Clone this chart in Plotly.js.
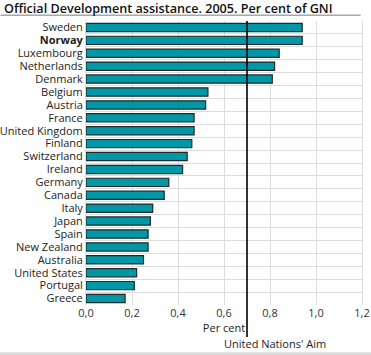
<!DOCTYPE html>
<html><head><meta charset="utf-8">
<script src="https://cdn.plot.ly/plotly-3.0.1.min.js"></script>
<style>html,body{margin:0;padding:0;background:#fff;}#c{width:371px;height:355px;}</style>
</head><body><div id="c"></div>
<script>
const countries = ["Sweden","Norway","Luxembourg","Netherlands","Denmark","Belgium","Austria","France","United Kingdom","Finland","Switzerland","Ireland","Germany","Canada","Italy","Japan","Spain","New Zealand","Australia","United States","Portugal","Greece"];
const values = [0.94,0.94,0.84,0.82,0.81,0.53,0.52,0.47,0.47,0.46,0.44,0.42,0.36,0.34,0.29,0.28,0.27,0.27,0.25,0.22,0.21,0.17];
const highlight = "Norway";
const aim = 0.7;
const xTicks = [0,0.2,0.4,0.6,0.8,1.0,1.2];

const ticktext = countries.map(c => c === highlight ? "<b>" + c + "</b>" : c);
const font = "Open Sans, DejaVu Sans, sans-serif";

const data = [{
  type: "bar", orientation: "h",
  y: countries, x: values,
  marker: {color: "#0097a7", line: {color: "#1e2a2c", width: 1.2}},
  hoverinfo: "x+y"
}];

const layout = {
  width: 371, height: 355,
  margin: {l: 85.5, r: 9.3, t: 21, b: 50},
  paper_bgcolor: "#fff", plot_bgcolor: "#fff",
  separators: ", ",
  showlegend: false,
  bargap: 0.36,
  font: {family: font, size: 11, color: "#222"},
  title: {text: "Official Development assistance. 2005. Per cent of GNI", x: 0.011, xanchor: "left", y: 0.975, yanchor: "middle", yref: "container",
          font: {family: font, size: 12.6, color: "#111", weight: 600}},
  xaxis: {range: [0, 1.2], tickvals: xTicks, tickformat: ".1f", showgrid: true, gridcolor: "#dcdcdc", gridwidth: 1,
          zeroline: false, showline: false, ticks: "", tickfont: {size: 11, color: "#333"},
          title: {text: "Per cent", standoff: 2, font: {size: 11, color: "#222"}}},
  yaxis: {type: "category", autorange: "reversed", tickvals: countries, ticktext: ticktext, tickson: "boundaries",
          showgrid: true, gridcolor: "#dcdcdc", gridwidth: 1, ticks: "", ticklen: 0, showline: true, linecolor: "#dcdcdc", mirror: true,
          tickfont: {size: 11, color: "#222"}},
  shapes: [
    {type: "line", xref: "x", yref: "paper", x0: aim, x1: aim, y0: -0.113, y1: 1, line: {color: "#000", width: 1.6}},
    {type: "line", xref: "paper", yref: "paper", x0: -0.31, x1: 0.995, y0: 1.02, y1: 1.02, line: {color: "#a8a8a8", width: 1.5}},
    {type: "rect", xref: "paper", yref: "paper", x0: -0.32, x1: 1.04, y0: -0.166, y1: -0.18, fillcolor: "#dddddd", line: {width: 0}}
  ],
  annotations: [
    {text: "United Nations' Aim", xref: "paper", yref: "paper", x: 0.683, y: -0.136, xanchor: "center", yanchor: "middle", showarrow: false,
     font: {size: 11, color: "#222"}}
  ]
};

Plotly.newPlot("c", data, layout, {displayModeBar: false, staticPlot: true});
</script>
</body></html>
